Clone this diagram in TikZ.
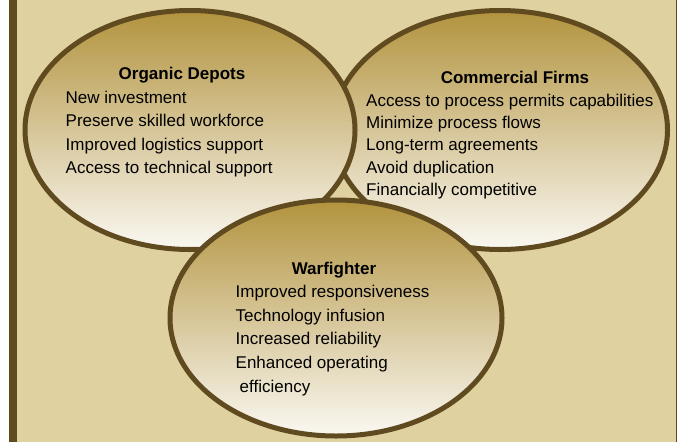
\documentclass[tikz,border=0pt]{standalone}
\usepackage{fontspec}
\setmainfont{Liberation Sans}
\usetikzlibrary{shapes.geometric}
\definecolor{panelbeige}{HTML}{DFD1A0}
\definecolor{rimbrown}{HTML}{604A1F}
\definecolor{bubblegold}{HTML}{B2933E}
\definecolor{bubblemid}{HTML}{CBB67C}
\definecolor{bubblewhite}{HTML}{FAF8F2}
\begin{document}
\begin{tikzpicture}[x=1pt,y=1pt,yscale=-1,xscale=1,
    bubble/.style={ellipse,draw=rimbrown,line width=5pt,inner sep=0pt,
        top color=bubblegold,middle color=bubblemid,bottom color=bubblewhite},
    head/.style={font=\bfseries\fontsize{17}{20}\selectfont,inner sep=0pt},
    items/.style={font=\fontsize{17}{23.3}\selectfont,align=left,inner sep=0pt,anchor=north west}]
        \useasboundingbox (0,0) rectangle (677,442);
        % Panel
        \fill [panelbeige] (17,0) rectangle (677,442);
        \fill [rimbrown] (9,0) rectangle (17,442);
        \draw [rimbrown,line width=1pt] (676.5,0) -- (676.5,442);
        % Ellipse
        \draw (500,130) node (firms) [bubble,minimum width=335,minimum height=239] {};
        % Ellipse
        \draw (190,130) node (depots) [bubble,minimum width=330,minimum height=239] {};
        % Ellipse
        \draw (336,318) node (warfighter) [bubble,minimum width=332,minimum height=236] {};
        % Text Node
        \draw (182,79) node (depotshead) [head,anchor=base] {Organic Depots};
        % Text Node
        \draw (65.5,91) node (depotsitems) [items] {New investment\\Preserve skilled workforce\\Improved logistics support\\Access to technical support};
        % Text Node
        \draw (515,83.3) node (firmshead) [head,anchor=base] {Commercial Firms};
        % Text Node
        \draw (366,93.8) node (firmsitems) [items,font=\fontsize{17}{22.3}\selectfont] {Access to process permits capabilities\\Minimize process flows\\Long-term agreements\\Avoid duplication\\Financially competitive};
        % Text Node
        \draw (334,274) node (warfighterhead) [head,anchor=base] {Warfighter};
        % Text Node
        \draw (235.5,285) node (warfighteritems) [items,font=\fontsize{17}{23.7}\selectfont] {Improved responsiveness\\Technology infusion\\Increased reliability\\Enhanced operating\\\hspace*{4pt}efficiency};
    \end{tikzpicture}
\end{document}
